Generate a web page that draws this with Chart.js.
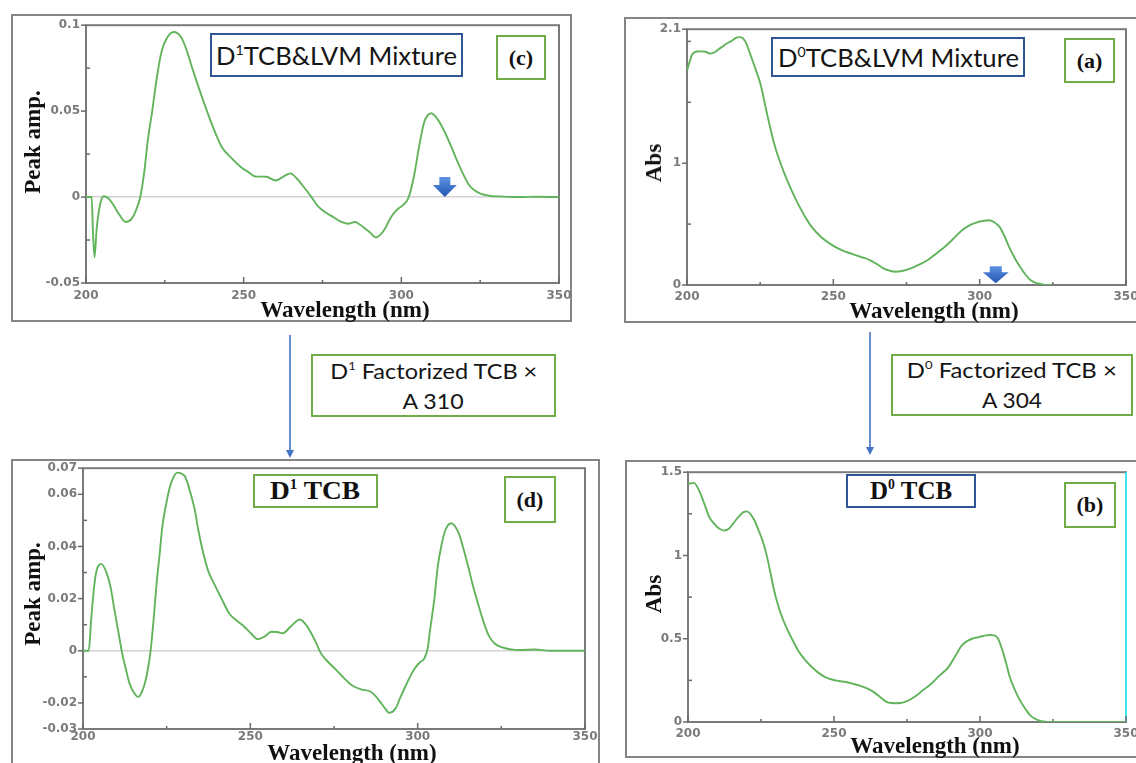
<!DOCTYPE html>
<html><head><meta charset="utf-8">
<script src="https://cdn.jsdelivr.net/npm/chart.js@4.4.0/dist/chart.umd.min.js"></script>
<style>
html,body{margin:0;padding:0;background:#fff;}
#root{position:relative;width:1136px;height:763px;overflow:hidden;background:#fff;}
.frame{position:absolute;border:2px solid #858585;box-sizing:border-box;}
#charts canvas{position:absolute;}
.box{position:absolute;box-sizing:border-box;display:flex;flex-direction:column;align-items:center;justify-content:center;background:#fff;white-space:nowrap;overflow:visible;}
.blue{border:2px solid #2f5597;}
.green{border:2px solid #70ad47;}
.sans{font-family:Lato,'Open Sans',sans-serif;color:#151515;}
.serif{font-family:'Liberation Serif','DejaVu Serif',serif;font-weight:bold;color:#111;}
.fit{display:inline-block;transform-origin:50% 50%;}
sup{font-size:0.55em;line-height:0;vertical-align:0.75em;}
.atitle{position:absolute;font-family:'Liberation Serif','DejaVu Serif',serif;font-weight:bold;font-size:23px;color:#111;white-space:nowrap;transform:translate(-50%,-50%);}
.rot{transform:translate(-50%,-50%) rotate(-90deg);}
</style></head>
<body>
<div id="root">
  <div class="frame" style="left:11px;top:14px;width:561px;height:308px"></div>
  <div class="frame" style="left:624px;top:17px;width:520px;height:306px"></div>
  <div class="frame" style="left:11px;top:459px;width:589px;height:320px"></div>
  <div class="frame" style="left:625px;top:460px;width:520px;height:298px"></div>
  <div id="charts"></div>

  <div class="box blue sans" style="left:210px;top:33px;width:253px;height:44px;font-size:25px"><span class="fit" data-w="241">D<sup>1</sup>TCB&amp;LVM Mixture</span></div>
  <div class="box green serif" style="left:496px;top:35px;width:50px;height:45px;font-size:22px"><span>(c)</span></div>

  <div class="box blue sans" style="left:771px;top:37px;width:254px;height:40px;font-size:25px"><span class="fit" data-w="241">D<sup>0</sup>TCB&amp;LVM Mixture</span></div>
  <div class="box green serif" style="left:1064px;top:38px;width:51px;height:45px;font-size:22px"><span>(a)</span></div>

  <div class="box green serif" style="left:253px;top:474px;width:125px;height:34px;font-size:25px"><span class="fit" data-w="90">D<sup>1</sup> TCB</span></div>
  <div class="box green serif" style="left:504px;top:476px;width:52px;height:47px;font-size:22px"><span>(d)</span></div>

  <div class="box blue serif" style="left:846px;top:474px;width:130px;height:34px;font-size:25px"><span class="fit" data-w="82">D<sup>0</sup> TCB</span></div>
  <div class="box green serif" style="left:1064px;top:482px;width:52px;height:46px;font-size:22px"><span>(b)</span></div>

  <div class="box green sans" style="left:311px;top:354px;width:245px;height:63px;font-size:22px;line-height:30px">
    <span class="fit" data-w="207">D<sup>1</sup> Factorized TCB ×</span>
    <span class="fit" data-w="61">A 310</span>
  </div>
  <div class="box green sans" style="left:891px;top:354px;width:242px;height:62px;font-size:22px;line-height:30px">
    <span class="fit" data-w="210">D<sup>0</sup> Factorized TCB ×</span>
    <span class="fit" data-w="60">A 304</span>
  </div>

  <div class="atitle" style="left:345px;top:310px">Wavelength (nm)</div>
  <div class="atitle rot" style="left:33px;top:142px">Peak amp.</div>
  <div class="atitle" style="left:934px;top:311px">Wavelength (nm)</div>
  <div class="atitle rot" style="left:654px;top:163px">Abs</div>
  <div class="atitle" style="left:352px;top:753px">Wavelength (nm)</div>
  <div class="atitle rot" style="left:33px;top:594px">Peak amp.</div>
  <div class="atitle" style="left:935px;top:746px">Wavelength (nm)</div>
  <div class="atitle rot" style="left:654px;top:594px">Abs</div>

  <svg style="position:absolute;left:0;top:0" width="1136" height="763">
    <line x1="290" y1="335" x2="290" y2="451" stroke="#4472c4" stroke-width="1.6"/>
    <polygon points="286,450 294,450 290,458" fill="#4472c4"/>
    <line x1="870" y1="332" x2="870" y2="448" stroke="#4472c4" stroke-width="1.6"/>
    <polygon points="866,447 874,447 870,455" fill="#4472c4"/>
  </svg>
</div>

<script>
// ---------- data ----------
const xTickValues = [200, 225, 250, 275, 300, 325, 350];
const xTickLabels = ['200', '', '250', '', '300', '', '350'];

// (c) D1 TCB & LVM mixture
const wavelengthC = [200,201.8,202.2,202.7,203.4,204.5,205.6,207,208.5,210.5,212.6,214.5,216,217.2,218.5,219.6,221,222.5,224,225.5,227.8,230.2,232,233.7,235.5,237.2,240,243.1,246,249,251.5,253.7,257.2,260.1,262.5,264.8,267,269,271.5,273.6,276,278.3,281,283,285.4,286.8,288.3,290,291.9,293.3,294.8,296.3,297.7,299.2,300.7,302,303,304.2,305.4,307.1,308.3,309.5,311,312.4,314,315.9,317.7,319.5,321.3,323,325.3,327.7,332,337,343,350];
const peakAmpC = [0,0,-0.02,-0.035,-0.018,-0.004,0.0005,-0.0005,-0.004,-0.010,-0.0145,-0.0125,-0.007,0.0,0.015,0.033,0.05,0.07,0.085,0.092,0.096,0.093,0.085,0.075,0.065,0.056,0.042,0.029,0.023,0.0177,0.0145,0.012,0.0118,0.0096,0.0118,0.0138,0.0105,0.006,0.0,-0.0054,-0.009,-0.0115,-0.0145,-0.0155,-0.0145,-0.016,-0.018,-0.0205,-0.0235,-0.022,-0.0185,-0.013,-0.0092,-0.0065,-0.0044,-0.0015,0.004,0.014,0.027,0.0427,0.0475,0.0488,0.0465,0.0427,0.037,0.029,0.021,0.0138,0.0075,0.0042,0.0018,0.0008,0.0003,0.0,0.0002,0];
const yTicksC = [-0.05,-0.025,0,0.025,0.05,0.075,0.1];
const yLabelsC = ['-0.05','','0','','0.05','','0.1'];

// (a) D0 TCB & LVM mixture
const wavelengthA = [200,201,201.8,203.5,205,206.4,207.6,209,210.5,212,213.4,215,216.9,218.2,219.3,220.5,221.6,223.3,225.1,227.4,229.8,231.5,233.3,235.5,237.9,240,242.6,246,249.6,253,256.6,259.5,262.5,265,267.1,269.2,271.2,273.5,276.5,279.5,282.3,285,288.1,291,294,296.5,298.6,301,303.3,305,306.8,308.5,310.3,312,313.8,315.5,317.3,319,320.8,323.1,324.5];
const absA = [1.76,1.84,1.895,1.917,1.918,1.915,1.90,1.905,1.93,1.955,1.98,2.0,2.03,2.035,2.02,1.97,1.895,1.78,1.65,1.40,1.16,1.03,0.914,0.79,0.668,0.575,0.477,0.39,0.327,0.285,0.254,0.23,0.205,0.17,0.136,0.118,0.109,0.115,0.136,0.17,0.205,0.255,0.314,0.38,0.45,0.49,0.51,0.525,0.532,0.515,0.477,0.40,0.30,0.22,0.15,0.09,0.041,0.02,0.008,0.0,0.0];
const yTicksA = [0,0.5,1,1.5,2,2.1];
const yLabelsA = ['0','','1','','','2.1'];

// (d) D1 TCB
const wavelengthD = [200,201.7,202.5,203.7,205.4,207.1,208.3,209.4,210.6,211.7,212.8,213.9,215.2,216.5,217.5,218.5,219.4,220.2,221.1,222,222.9,223.7,224.8,226,227,228.2,229.3,230.5,232,233.4,234.5,235.7,237.3,239.1,241.4,243.7,246,248.2,250.3,252.2,254.3,256.3,258,259.7,262,264.8,266.3,267.7,269.5,271.1,273.4,275.7,278,280.3,283.1,286,287.5,288.8,290.2,291.5,293.4,294.8,296.3,297.7,299.1,300.6,302,303,303.7,305,306,307.2,308.3,310,312.3,313.7,315.1,316.5,318,319.7,321.4,323,324.8,330.6,335,339.7,350];
const peakAmpD = [0,0,0.013,0.0284,0.0333,0.0297,0.024,0.0156,0.007,-0.001,-0.007,-0.0125,-0.016,-0.0177,-0.016,-0.0125,-0.007,0.0,0.012,0.0259,0.037,0.0476,0.056,0.063,0.0665,0.0683,0.068,0.0668,0.061,0.054,0.046,0.0387,0.031,0.0259,0.02,0.0143,0.0115,0.0092,0.0065,0.0044,0.0055,0.0073,0.0072,0.0067,0.0092,0.012,0.0105,0.0079,0.0035,-0.001,-0.0045,-0.0074,-0.0105,-0.0132,-0.0148,-0.0157,-0.0175,-0.0196,-0.022,-0.0238,-0.0221,-0.018,-0.0138,-0.01,-0.0068,-0.0045,-0.0029,0.001,0.0079,0.02,0.0323,0.041,0.0463,0.0489,0.045,0.039,0.0323,0.025,0.0182,0.011,0.0054,0.0028,0.0015,0.0003,0.0005,0.0,0.0];
const yTicksD = [-0.03,-0.02,-0.01,0,0.01,0.02,0.03,0.04,0.05,0.06,0.07];
const yLabelsD = ['-0.03','-0.02','','0','','0.02','','0.04','','0.06','0.07'];

// (b) D0 TCB
const wavelengthB = [200,202,204.3,205.8,207.3,209,210.8,212.5,214,215.4,217.2,219,220.2,221.3,222.8,224.2,225.7,227.1,228.3,229.5,230.7,231.8,233.5,235.3,237.7,240,242.4,244.7,247,249.3,251.7,254,256.4,259.3,262.2,264,265.8,267.2,268.7,270.8,272.8,275,277.5,280.4,283.3,286.2,289.2,291.5,293.8,295.5,297.3,299.6,302,303.5,304.9,306.2,307.3,308.7,310.2,312,313.7,315.5,317.2,319,320.7,322.8,324.8,335,350];
const absB = [1.43,1.436,1.37,1.30,1.23,1.19,1.16,1.15,1.16,1.19,1.23,1.26,1.265,1.25,1.21,1.15,1.08,0.99,0.89,0.79,0.71,0.65,0.575,0.51,0.43,0.375,0.33,0.295,0.27,0.255,0.246,0.24,0.23,0.215,0.194,0.175,0.15,0.13,0.116,0.113,0.114,0.125,0.15,0.19,0.23,0.28,0.33,0.395,0.46,0.485,0.50,0.51,0.52,0.522,0.52,0.5,0.45,0.37,0.27,0.19,0.13,0.08,0.04,0.018,0.006,0.001,0.0,0.0,0.0];
const yTicksB = [0,0.25,0.5,0.75,1,1.25,1.5];
const yLabelsB = ['0','','0.5','','1','','1.5'];

// ---------- drawing ----------
const tickFont = {family:"'DejaVu Sans', sans-serif", weight:'bold', size:12};
const tickColor = '#7a7a7a';

function blockArrow(ctx, tx, ty, a){
  ctx.beginPath();
  ctx.moveTo(tx, ty);
  ctx.lineTo(tx - a.w/2, ty - a.hh);
  ctx.lineTo(tx - a.sw/2, ty - a.hh);
  ctx.lineTo(tx - a.sw/2, ty - a.hh - a.sh);
  ctx.lineTo(tx + a.sw/2, ty - a.hh - a.sh);
  ctx.lineTo(tx + a.sw/2, ty - a.hh);
  ctx.lineTo(tx + a.w/2, ty - a.hh);
  ctx.closePath();
  const g = ctx.createLinearGradient(tx, ty - a.hh - a.sh, tx, ty);
  g.addColorStop(0, '#5d92e3'); g.addColorStop(1, '#2356b4');
  ctx.fillStyle = g; ctx.fill();
}

function makePanel(p){
  const YW = 70, TP = 12, RP = 24, XH = 34;
  const W = YW + (p.right - p.left) + RP, H = TP + (p.bottom - p.top) + XH;
  const cv = document.createElement('canvas');
  cv.width = W; cv.height = H;
  cv.style.left = (p.left - YW) + 'px'; cv.style.top = (p.top - TP) + 'px';
  cv.style.width = W + 'px'; cv.style.height = H + 'px';
  document.getElementById('charts').appendChild(cv);

  const deco = {
    id: 'deco' + p.name,
    beforeDatasetsDraw(chart){
      const {ctx, chartArea:a, scales:{x, y}} = chart;
      ctx.save();
      ctx.strokeStyle = '#7a7a7a'; ctx.lineWidth = 2;
      ctx.strokeRect(a.left, a.top, a.right - a.left, a.bottom - a.top);
      if (p.rightEdge){
        ctx.strokeStyle = p.rightEdge; ctx.beginPath();
        ctx.moveTo(a.right, a.top); ctx.lineTo(a.right, a.bottom); ctx.stroke();
      }
      ctx.strokeStyle = '#6a6a6a'; ctx.lineWidth = 1.5;
      x.ticks.forEach(t => {
        const px = x.getPixelForValue(t.value), L = t.label ? 6 : 3;
        ctx.beginPath(); ctx.moveTo(px, a.bottom); ctx.lineTo(px, a.bottom - L); ctx.stroke();
      });
      y.ticks.forEach(t => {
        const py = y.getPixelForValue(t.value);
        ctx.beginPath();
        if (t.label){ ctx.moveTo(a.left - 5, py); ctx.lineTo(a.left, py); }
        else { ctx.moveTo(a.left, py); ctx.lineTo(a.left + 4, py); }
        ctx.stroke();
      });
      ctx.restore();
    },
    afterDatasetsDraw(chart){
      if (!p.arrow) return;
      const {ctx, scales:{x, y}} = chart;
      ctx.save();
      blockArrow(ctx, x.getPixelForValue(p.arrow.x), y.getPixelForValue(p.arrow.y), p.arrow);
      ctx.restore();
    }
  };

  return new Chart(cv, {
    type: 'line',
    data: {datasets: [{
      data: p.xs.map((v, i) => ({x: v, y: p.ys[i]})),
      borderColor: '#62b45c', borderWidth: 1.9, pointRadius: 0,
      cubicInterpolationMode: 'monotone', fill: false
    }]},
    options: {
      responsive: false, animation: false, devicePixelRatio: 1,
      layout: {padding: {left: 0, top: TP, right: RP, bottom: 0}},
      plugins: {legend: {display: false}, tooltip: {enabled: false}},
      scales: {
        x: {
          type: 'linear', min: 200, max: 350,
          afterBuildTicks: s => { s.ticks = xTickValues.map(v => ({value: v})); },
          afterFit: s => { s.height = XH; },
          ticks: {autoSkip: false, maxRotation: 0, padding: p.xPad,
                  callback: (v, i) => xTickLabels[i], font: tickFont, color: tickColor},
          grid: {display: false, drawTicks: false},
          border: {display: false}
        },
        y: {
          type: 'linear', min: p.yMin, max: p.yMax,
          afterBuildTicks: s => { s.ticks = p.yTicks.map(v => ({value: v})); },
          afterFit: s => { s.width = YW; },
          ticks: {autoSkip: false, padding: 6,
                  callback: (v, i) => p.yLabels[i], font: tickFont, color: tickColor},
          grid: {display: !!p.zero, drawTicks: false, lineWidth: 1.5,
                 color: c => (c.tick && Math.abs(c.tick.value) < 1e-9) ? '#d2d2d2' : 'rgba(0,0,0,0)'},
          border: {display: false}
        }
      }
    },
    plugins: [deco]
  });
}

makePanel({name:'c', left:86, top:24, right:559, bottom:283, xs:wavelengthC, ys:peakAmpC,
  yMin:-0.05, yMax:0.1, yTicks:yTicksC, yLabels:yLabelsC, xPad:6, zero:true,
  arrow:{x:313.8, y:0, w:24, sw:11, sh:8, hh:12}});
makePanel({name:'a', left:687, top:28, right:1126, bottom:285, xs:wavelengthA, ys:absA,
  yMin:0, yMax:2.1, yTicks:yTicksA, yLabels:yLabelsA, xPad:5,
  arrow:{x:305.5, y:0.015, w:26, sw:12, sh:6, hh:11}});
makePanel({name:'d', left:83, top:467, right:585, bottom:729, xs:wavelengthD, ys:peakAmpD,
  yMin:-0.03, yMax:0.07, yTicks:yTicksD, yLabels:yLabelsD, xPad:1, zero:true});
makePanel({name:'b', left:688, top:471, right:1126, bottom:722, xs:wavelengthB, ys:absB,
  yMin:0, yMax:1.5, yTicks:yTicksB, yLabels:yLabelsB, xPad:5, rightEdge:'#3fe3f2'});

function fitTexts(){
  document.querySelectorAll('.fit').forEach(el => {
    el.style.transform = 'none';
    const w = el.getBoundingClientRect().width;
    const t = +el.dataset.w;
    if (w > 0) el.style.transform = 'scaleX(' + (t / w) + ')';
  });
}
fitTexts();
if (document.fonts && document.fonts.ready) document.fonts.ready.then(fitTexts);
</script>
</body></html>
